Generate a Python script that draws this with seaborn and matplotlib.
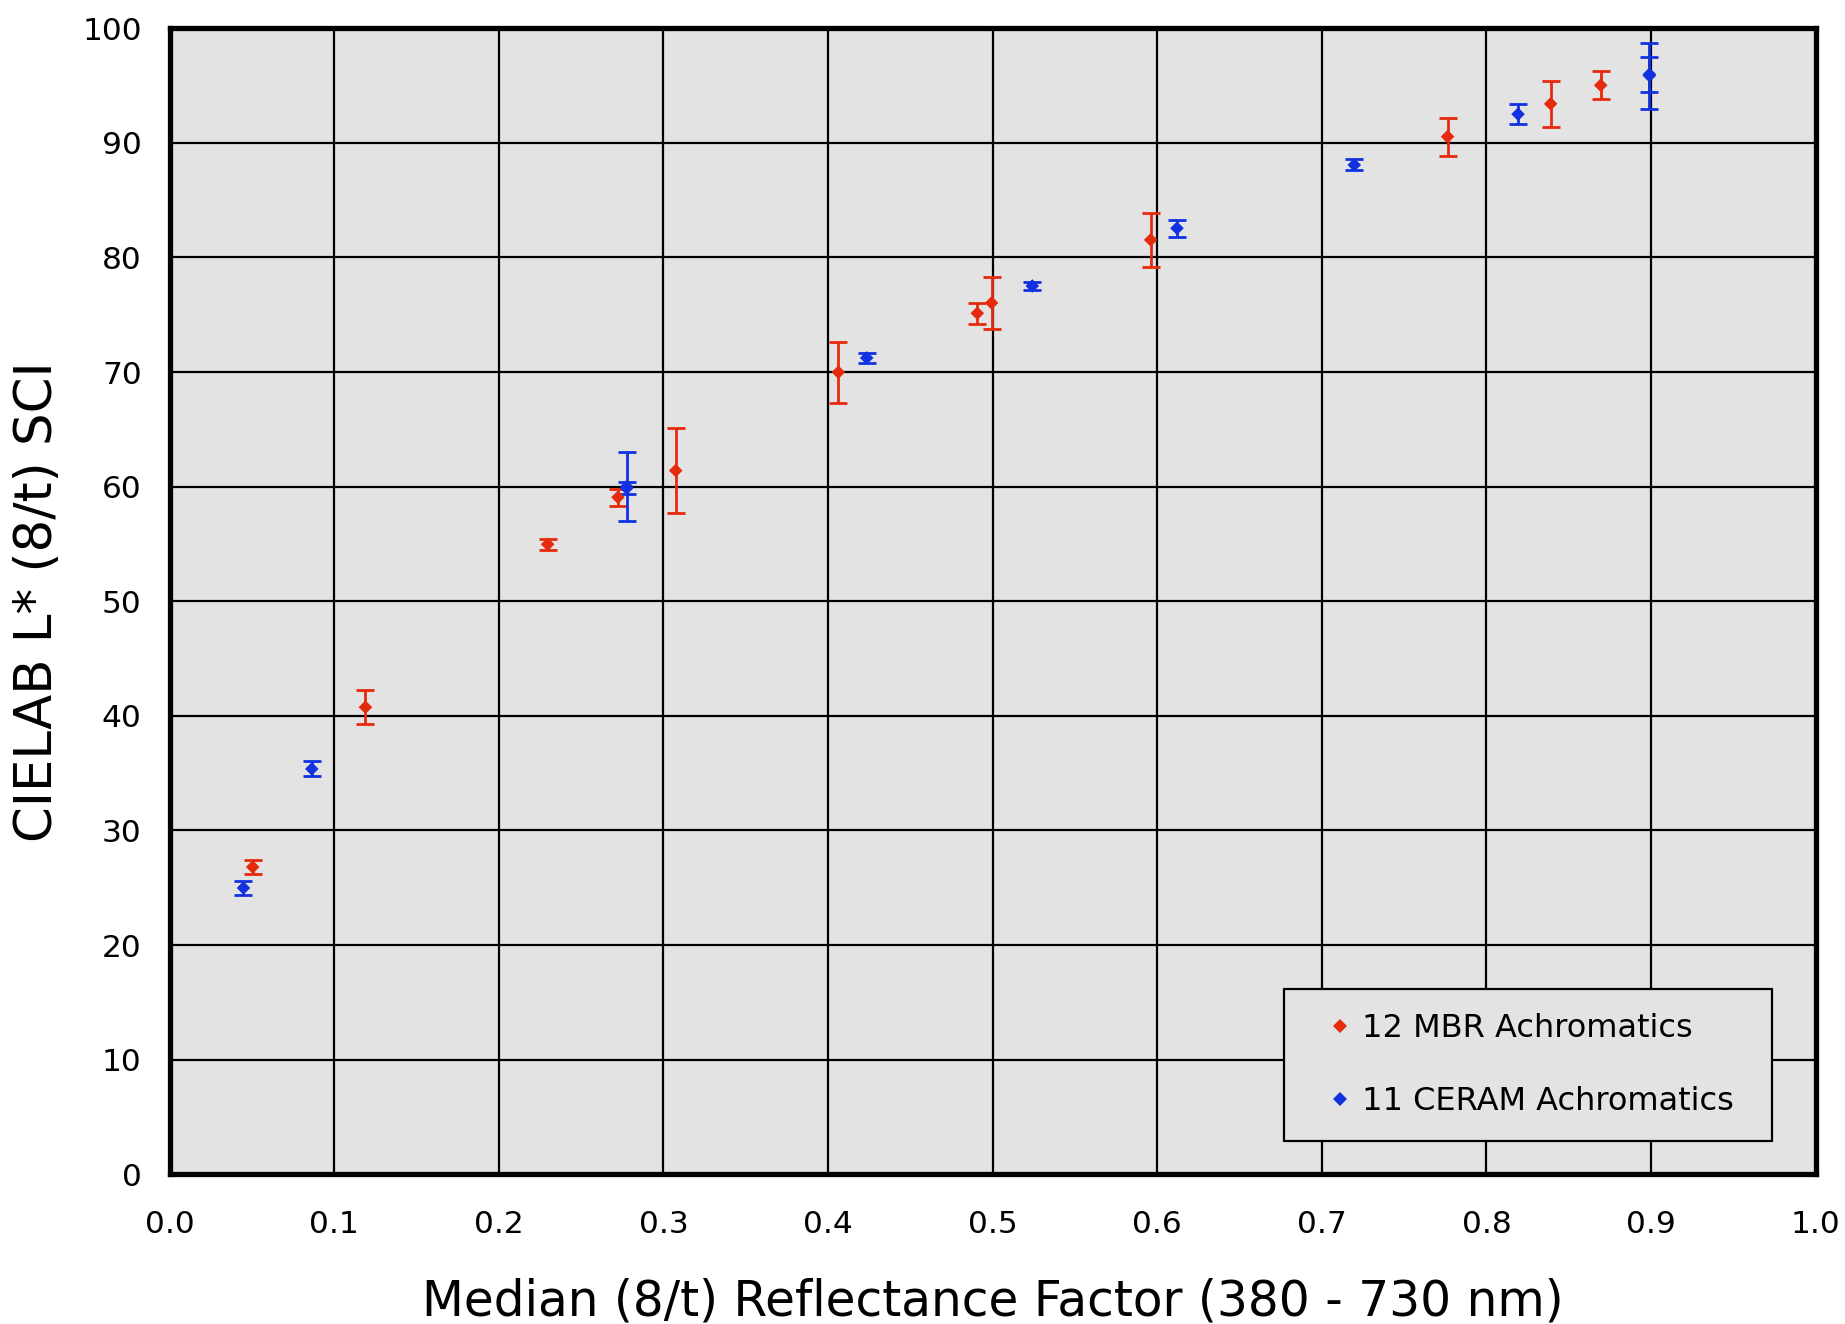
import matplotlib
matplotlib.use("Agg")
import matplotlib.pyplot as plt
import numpy as np
import pandas as pd
import seaborn as sns

# Median reflectance factor, CIELAB L* and its uncertainty for each tile set
mbr_x = [0.0505, 0.119, 0.2297, 0.2724, 0.3075, 0.4063, 0.4907, 0.4994, 0.596, 0.7764, 0.839, 0.8694]
mbr_l = [26.81, 40.75, 54.97, 59.07, 61.4, 69.98, 75.13, 76.03, 81.53, 90.54, 93.4, 95.02]
mbr_err = [0.63, 1.5, 0.48, 0.73, 3.73, 2.65, 0.92, 2.28, 2.34, 1.66, 1.98, 1.24]

ceram_x = [0.0449, 0.0864, 0.2777, 0.2777, 0.4235, 0.5241, 0.612, 0.7197, 0.8192, 0.899, 0.899]
ceram_l = [24.98, 35.37, 60.0, 59.86, 71.23, 77.51, 82.55, 88.07, 92.5, 95.86, 95.98]
ceram_err = [0.6, 0.65, 3.0, 0.52, 0.43, 0.36, 0.74, 0.48, 0.86, 2.88, 1.54]

series_names = ["12 MBR Achromatics", "11 CERAM Achromatics"]
series_colors = ["#E62A0E", "#1231E0"]

x_ticks = [0.0, 0.1, 0.2, 0.3, 0.4, 0.5, 0.6, 0.7, 0.8, 0.9, 1.0]
y_ticks = [0, 10, 20, 30, 40, 50, 60, 70, 80, 90, 100]

df = pd.concat([
    pd.DataFrame({"reflectance": mbr_x, "L": mbr_l, "err": mbr_err, "set": series_names[0]}),
    pd.DataFrame({"reflectance": ceram_x, "L": ceram_l, "err": ceram_err, "set": series_names[1]}),
], ignore_index=True)

sns.set_style("darkgrid", rc={
    "axes.facecolor": "#E3E3E3",
    "axes.edgecolor": "black",
    "grid.color": "black",
    "xtick.bottom": False,
    "ytick.left": False,
})
plt.rcParams["font.family"] = ["DejaVu Sans"]

dpi = 100
fig = plt.figure(figsize=(1845 / dpi, 1324 / dpi), dpi=dpi, facecolor="white")
ax = fig.add_axes([0.0919, 0.1131, 0.9841 - 0.0919, 0.9787 - 0.1131])
ax.set_axisbelow(True)

palette = dict(zip(series_names, series_colors))

# Uncertainty bars for each measurement
for name in series_names:
    sub = df[df["set"] == name]
    ax.errorbar(sub["reflectance"], sub["L"], yerr=sub["err"], fmt="none",
                ecolor=palette[name], elinewidth=2.0, capsize=6.8, capthick=2.0,
                zorder=3)

sns.scatterplot(data=df, x="reflectance", y="L", hue="set", palette=palette,
                marker="D", s=48, linewidth=0, ax=ax, zorder=4)

ax.set_xlim(0, 1)
ax.set_ylim(0, 100)
ax.set_xticks(x_ticks)
ax.set_xticklabels([f"{t:.1f}" for t in x_ticks])
ax.set_yticks(y_ticks)
ax.set_yticklabels([str(t) for t in y_ticks])
ax.grid(True, color="black", linewidth=1.6)
ax.tick_params(axis="x", length=0, pad=26, labelsize=22.5, labelcolor="black")
ax.tick_params(axis="y", length=0, pad=20, labelsize=22.5, labelcolor="black")

ax.set_xlabel("Median (8/t) Reflectance Factor (380 - 730 nm)", fontsize=35, color="black")
ax.set_ylabel("CIELAB L* (8/t) SCI", fontsize=37, color="black")
ax.xaxis.set_label_coords(0.5, -0.0905)
ax.yaxis.set_label_coords(-0.0648, 0.5)

for sp in ax.spines.values():
    sp.set_visible(True)
    sp.set_color("black")
    sp.set_linewidth(3.8)

handles, labels = ax.get_legend_handles_labels()
leg = ax.legend(handles, labels, loc="lower left",
                bbox_to_anchor=(0.677, 0.0287, 0.2965, 0.1333), mode="expand",
                borderaxespad=0, fontsize=23, frameon=True, fancybox=False,
                facecolor="#E3E3E3", edgecolor="black", framealpha=1,
                borderpad=0.77, labelspacing=1.3, handlelength=1.94,
                handletextpad=-0.27, markerscale=1.0)
leg.get_frame().set_linewidth(1.6)
for t in leg.get_texts():
    t.set_color("black")

fig.savefig("out.png", dpi=dpi, facecolor="white")
